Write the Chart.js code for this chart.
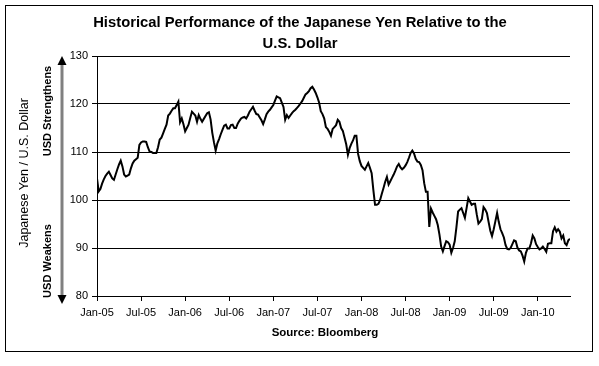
<!DOCTYPE html>
<html>
<head>
<meta charset="utf-8">
<script src="https://cdn.jsdelivr.net/npm/chart.js@4"></script>
<style>
  html, body { margin: 0; padding: 0; background: #ffffff; }
  #wrap { width: 599px; height: 366px; position: relative; }
</style>
</head>
<body>
<div id="wrap"><canvas id="yenChart" width="599" height="366"></canvas></div>
<script>
// Weekly JPY per USD, first week of Jan 2005 to May 2010
const yenPerDollar = [
    104.5, 101.8, 102.3, 103.4, 104.3, 105.0, 105.5, 105.9, 105.2, 104.5,
    104.2, 105.3, 106.4, 107.4, 108.2, 107.0, 105.3, 104.9, 105.1, 105.3,
    106.6, 107.6, 108.2, 108.5, 108.8, 111.5, 112.0, 112.2, 112.2, 112.1,
    111.0, 110.1, 110.0, 109.8, 109.8, 109.8, 111.0, 112.6, 113.0, 113.9,
    114.8, 115.7, 117.6, 118.0, 118.6, 119.1, 119.1, 119.8, 120.5, 116.2,
    117.0, 115.8, 114.3, 115.0, 115.7, 117.1, 118.4, 118.0, 117.6, 116.3,
    117.7, 116.9, 116.3, 116.9, 117.5, 118.1, 118.3, 116.8, 114.0, 112.0,
    110.3, 111.8, 112.7, 113.7, 114.6, 115.5, 115.7, 114.9, 114.9, 115.6,
    115.7, 115.0, 115.0, 115.9, 116.5, 117.0, 117.2, 117.3, 117.0, 117.6,
    118.4, 118.9, 119.4, 118.6, 117.9, 117.8, 117.2, 116.6, 115.8, 116.8,
    117.9, 118.4, 118.8, 119.3, 119.8, 120.7, 121.6, 121.4, 121.2, 120.3,
    119.4, 116.7, 117.7, 117.1, 117.6, 118.1, 118.5, 118.8, 119.2, 119.6,
    120.1, 120.6, 121.3, 122.0, 122.3, 122.7, 123.3, 123.6, 123.0, 122.3,
    121.4, 120.3, 118.5, 117.9, 117.0, 115.2, 114.8, 114.2, 113.4, 114.8,
    115.2, 115.6, 116.7, 116.3, 115.0, 114.4, 113.0, 111.6, 109.4, 110.8,
    111.7, 112.4, 113.4, 113.4, 109.6, 108.1, 107.1, 106.7, 106.3, 107.0,
    107.7, 106.7, 105.6, 102.1, 99.0, 99.0, 99.2, 100.0, 101.3, 102.5,
    103.8, 104.8, 103.2, 103.9, 104.6, 105.3, 106.1, 107.0, 107.5, 106.8,
    106.4, 106.7, 107.2, 107.9, 108.8, 109.8, 110.3, 109.7, 108.6, 108.0,
    107.9, 107.3, 106.2, 103.5, 101.7, 101.7, 94.4, 98.2, 97.4, 96.7,
    96.0, 94.8, 92.8, 90.3, 89.3, 90.4, 91.4, 91.2, 90.7, 89.0,
    90.0, 91.4, 94.3, 97.6, 98.0, 98.3, 97.3, 96.3, 98.3, 100.4,
    99.7, 99.0, 99.2, 99.2, 97.0, 95.1, 95.5, 96.0, 98.5, 98.0,
    97.3, 95.4, 93.6, 92.5, 93.9, 95.6, 97.3, 95.4, 93.9, 93.1,
    92.2, 90.6, 89.8, 89.7, 90.0, 90.8, 91.6, 91.4, 90.1, 89.5,
    89.3, 88.4, 87.2, 89.0, 89.9, 89.9, 91.0, 92.6, 92.0, 90.8,
    90.2, 89.7, 89.9, 90.3, 89.8, 89.2, 90.9, 91.0, 91.0, 93.5,
    94.3, 93.4, 93.9, 93.4, 92.0, 92.6, 91.0, 90.6, 91.6, 91.9
];

// x axis ticks, in months since Jan 2005
const tickMonths = [0, 6, 12, 18, 24, 30, 36, 42, 48, 54, 60];
const tickLabels = ['Jan-05', 'Jul-05', 'Jan-06', 'Jul-06', 'Jan-07', 'Jul-07',
                    'Jan-08', 'Jul-08', 'Jan-09', 'Jul-09', 'Jan-10'];
const yTicks = [80, 90, 100, 110, 120, 130];

const titleLines = ['Historical Performance of the Japanese Yen Relative to the', 'U.S. Dollar'];
const axisTitle = 'Japanese Yen / U.S. Dollar';
const upLabel = 'USD Strengthens';
const downLabel = 'USD Weakens';
const sourceText = 'Source: Bloomberg';

const FONT = '"Liberation Sans", Arial, sans-serif';

// frame, titles and the strengthen/weaken arrow
const decorPlugin = {
    id: 'decor',
    afterDraw(chart) {
        const ctx = chart.ctx;
        const y = chart.scales.y;
        ctx.save();

        // outer frame
        ctx.strokeStyle = '#000';
        ctx.lineWidth = 1;
        ctx.strokeRect(5.5, 5.5, 587, 346);

        ctx.fillStyle = '#000';
        ctx.textAlign = 'center';
        ctx.textBaseline = 'middle';
        ctx.font = 'bold 14.8px ' + FONT;
        ctx.fillText(titleLines[0], 300, 23);
        ctx.fillText(titleLines[1], 300, 44);

        ctx.font = 'bold 11.5px ' + FONT;
        ctx.fillText(sourceText, 325, 333);

        // arrow
        const ax = 62;
        const top = y.getPixelForValue(130);
        const bot = y.getPixelForValue(80);
        ctx.strokeStyle = '#808080';
        ctx.lineWidth = 3;
        ctx.beginPath();
        ctx.moveTo(ax, top + 6);
        ctx.lineTo(ax, bot + 2);
        ctx.stroke();
        ctx.fillStyle = '#000';
        ctx.beginPath();
        ctx.moveTo(ax, top);
        ctx.lineTo(ax - 4.5, top + 9);
        ctx.lineTo(ax + 4.5, top + 9);
        ctx.closePath();
        ctx.fill();
        ctx.beginPath();
        ctx.moveTo(ax, bot + 8);
        ctx.lineTo(ax - 4.5, bot - 1);
        ctx.lineTo(ax + 4.5, bot - 1);
        ctx.closePath();
        ctx.fill();

        // rotated labels
        const vtext = (txt, x, cy, font) => {
            ctx.save();
            ctx.translate(x, cy);
            ctx.rotate(-Math.PI / 2);
            ctx.font = font;
            ctx.textAlign = 'center';
            ctx.textBaseline = 'middle';
            ctx.fillText(txt, 0, 0);
            ctx.restore();
        };
        vtext(axisTitle, 25, 173, '12.5px ' + FONT);
        vtext(upLabel, 48, 111, 'bold 11px ' + FONT);
        vtext(downLabel, 48, 261, 'bold 11px ' + FONT);

        ctx.restore();
    }
};

const ctx = document.getElementById('yenChart').getContext('2d');
const lastMonth = (yenPerDollar.length - 1) * 12 / 52;

new Chart(ctx, {
    type: 'line',
    data: {
        datasets: [{
            label: 'JPY per USD',
            data: yenPerDollar.map((v, i) => ({ x: i * 12 / 52, y: v })),
            borderColor: '#000',
            borderWidth: 2,
            pointRadius: 0,
            tension: 0,
            fill: false
        }]
    },
    options: {
        responsive: false,
        animation: false,
        events: [],
        layout: { padding: { top: 56, right: 29, bottom: 0, left: 0 } },
        plugins: {
            legend: { display: false },
            tooltip: { enabled: false },
            title: { display: false }
        },
        scales: {
            x: {
                type: 'linear',
                min: 0,
                max: lastMonth,
                afterBuildTicks: axis => { axis.ticks = tickMonths.map(v => ({ value: v })); },
                afterFit: scale => { scale.height = 70; },
                grid: { drawOnChartArea: false, drawTicks: true, tickLength: 5, tickColor: '#000', lineWidth: 1 },
                border: { display: true, color: '#000', width: 1 },
                ticks: {
                    autoSkip: false,
                    maxRotation: 0,
                    padding: 5,
                    color: '#000',
                    font: { family: FONT, size: 11 },
                    callback: (value, index) => tickLabels[index]
                }
            },
            y: {
                min: 80,
                max: 130,
                afterBuildTicks: axis => { axis.ticks = yTicks.map(v => ({ value: v })); },
                afterFit: scale => { scale.width = 97; },
                grid: { color: '#000', lineWidth: 1, drawTicks: true, tickLength: 5, tickColor: '#000' },
                border: { display: true, color: '#000', width: 1 },
                ticks: {
                    padding: 4,
                    color: '#000',
                    font: { family: FONT, size: 11 }
                }
            }
        }
    },
    plugins: [decorPlugin]
});
</script>
</body>
</html>
